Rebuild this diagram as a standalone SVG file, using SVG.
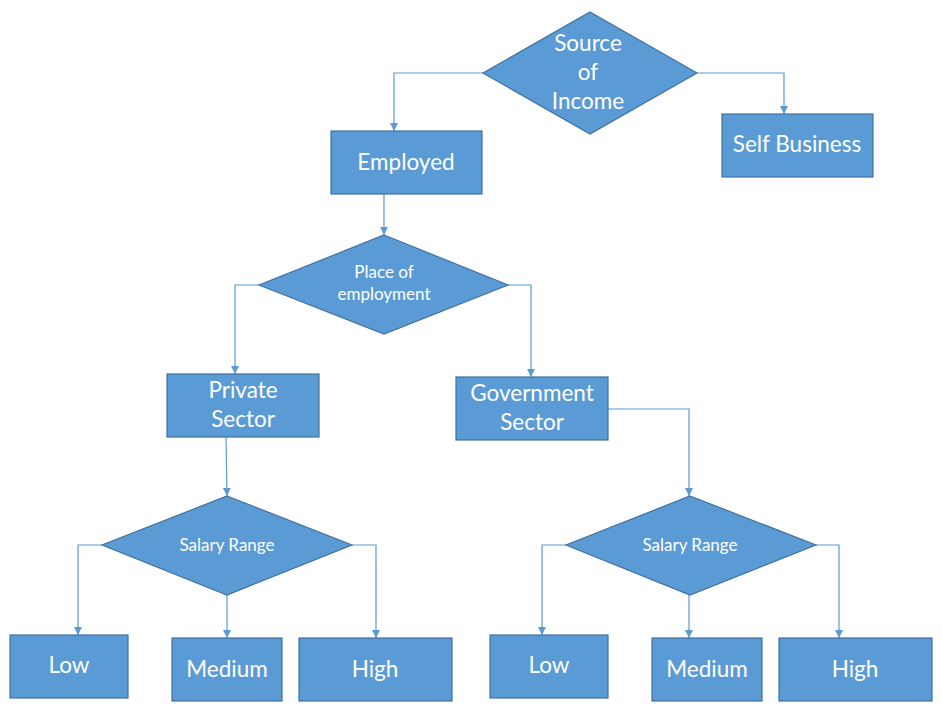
<svg xmlns="http://www.w3.org/2000/svg" width="942" height="712" viewBox="0 0 942 712">
<defs>
<style>
.n{fill:#5B9BD5;stroke:#41719C;stroke-width:1.2}
.t{fill:#FFFFFF;font-family:Lato,"Open Sans","Liberation Sans",sans-serif;text-anchor:middle}
.L{font-size:22.5px}
.S{font-size:17px}
.c{fill:none;stroke:#5B9BD5;stroke-width:1.2}
</style>
<marker id="a" viewBox="0 0 10 10" refX="10" refY="5" markerWidth="8" markerHeight="8" markerUnits="userSpaceOnUse" orient="auto">
<path d="M0,0 L10,5 L0,10 z" fill="#5B9BD5"/>
</marker>
</defs>
<rect width="942" height="712" fill="#FFFFFF"/>
<g id="connectors">
<path class="c" marker-end="url(#a)" d="M483,73 H394 V131"/>
<path class="c" marker-end="url(#a)" d="M697,73 H784 V114"/>
<path class="c" marker-end="url(#a)" d="M384,194 V235"/>
<path class="c" marker-end="url(#a)" d="M259,285 H235 V374"/>
<path class="c" marker-end="url(#a)" d="M508,285 H531 V377"/>
<path class="c" marker-end="url(#a)" d="M226,437 L227,496"/>
<path class="c" marker-end="url(#a)" d="M608,409 H689 V496"/>
<path class="c" marker-end="url(#a)" d="M102,545 H78 V635"/>
<path class="c" marker-end="url(#a)" d="M227,595 V638"/>
<path class="c" marker-end="url(#a)" d="M352,545 H376 V638"/>
<path class="c" marker-end="url(#a)" d="M566,545 H542 V635"/>
<path class="c" marker-end="url(#a)" d="M689,595 V638"/>
<path class="c" marker-end="url(#a)" d="M816,545 H839 V638"/>
</g>
<g id="source">
<polygon class="n" points="590,12 697,73 590,134 483,73"/>
<text class="t L" x="588" y="51">Source</text>
<text class="t L" x="588" y="80">of</text>
<text class="t L" x="588" y="109">Income</text>
</g>
<g id="employed">
<rect class="n" x="331" y="131" width="151" height="63"/>
<text class="t L" x="406" y="170">Employed</text>
</g>
<g id="self">
<rect class="n" x="722" y="114" width="151" height="63"/>
<text class="t L" x="797" y="152">Self Business</text>
</g>
<g id="place">
<polygon class="n" points="384,235 508,285 384,334 259,285"/>
<text class="t S" x="384" y="278">Place of</text>
<text class="t S" x="384" y="300">employment</text>
</g>
<g id="private">
<rect class="n" x="167" y="374" width="152" height="63"/>
<text class="t L" x="243" y="398">Private</text>
<text class="t L" x="243" y="427">Sector</text>
</g>
<g id="government">
<rect class="n" x="456" y="377" width="152" height="63"/>
<text class="t L" x="532" y="401">Government</text>
<text class="t L" x="532" y="430">Sector</text>
</g>
<g id="salary1">
<polygon class="n" points="227,496 352,545 227,595 102,545"/>
<text class="t S" x="227" y="551">Salary Range</text>
</g>
<g id="salary2">
<polygon class="n" points="690,496 816,545 690,595 566,545"/>
<text class="t S" x="690" y="551">Salary Range</text>
</g>
<g id="low1">
<rect class="n" x="10" y="635" width="118" height="63"/>
<text class="t L" x="69" y="673">Low</text>
</g>
<g id="medium1">
<rect class="n" x="172" y="638" width="110" height="63"/>
<text class="t L" x="227" y="677">Medium</text>
</g>
<g id="high1">
<rect class="n" x="299" y="638" width="153" height="63"/>
<text class="t L" x="375" y="677">High</text>
</g>
<g id="low2">
<rect class="n" x="490" y="635" width="118" height="63"/>
<text class="t L" x="549" y="673">Low</text>
</g>
<g id="medium2">
<rect class="n" x="652" y="638" width="110" height="63"/>
<text class="t L" x="707" y="677">Medium</text>
</g>
<g id="high2">
<rect class="n" x="779" y="638" width="153" height="63"/>
<text class="t L" x="855" y="677">High</text>
</g>
</svg>
